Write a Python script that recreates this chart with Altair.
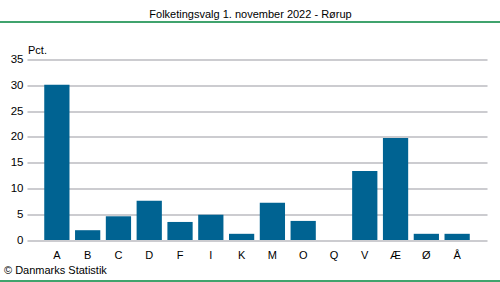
import altair as alt
import pandas as pd

parties = ["A", "B", "C", "D", "F", "I", "K", "M", "O", "Q", "V", "Æ", "Ø", "Å"]
values = [30.1, 1.9, 4.6, 7.6, 3.5, 4.9, 1.2, 7.2, 3.7, 0.0, 13.4, 19.8, 1.2, 1.2]
title_text = "Folketingsvalg 1. november 2022 - Rørup"
unit_text = "Pct."
source_text = "© Danmarks Statistik"

df = pd.DataFrame({"parti": parties, "pct": values})

FONT = "Liberation Sans"
FS = 11
W, H = 460, 180.5
LEFT, TOP = 27, 59.5

bars = alt.Chart(df).mark_bar(color="#006392").encode(
    x=alt.X("parti:N", sort=parties, title=None,
            scale=alt.Scale(paddingInner=0.18, paddingOuter=0.56),
            axis=alt.Axis(labelAngle=0, ticks=False, domain=False, labelPadding=9,
                          labelFont=FONT, labelFontSize=FS, labelColor="#000")),
    y=alt.Y("pct:Q", title=None,
            scale=alt.Scale(domain=[0, 35], nice=False),
            axis=alt.Axis(values=[0, 5, 10, 15, 20, 25, 30, 35], ticks=False, domain=False,
                          labelPadding=4, gridColor="#bbbbc0", gridWidth=1.3, gridOpacity=1,
                          labelFont=FONT, labelFontSize=FS + 0.5, labelColor="#000")),
)

title = alt.Chart(pd.DataFrame({"t": [title_text]})).mark_text(
    font=FONT, fontSize=FS, align="center", baseline="middle", color="#000"
).encode(x=alt.value(250.5 - LEFT), y=alt.value(15 - TOP), text="t:N")

unit = alt.Chart(pd.DataFrame({"t": [unit_text]})).mark_text(
    font=FONT, fontSize=FS, align="left", baseline="middle", color="#000"
).encode(x=alt.value(28 - LEFT), y=alt.value(51 - TOP), text="t:N")

source = alt.Chart(pd.DataFrame({"t": [source_text]})).mark_text(
    font=FONT, fontSize=FS, align="left", baseline="middle", color="#000"
).encode(x=alt.value(4 - LEFT), y=alt.value(271 - TOP), text="t:N")

line_top = alt.Chart(pd.DataFrame({"a": [0]})).mark_rule(color="#00843d", strokeWidth=1.3).encode(
    x=alt.value(0 - LEFT), x2=alt.value(500 - LEFT), y=alt.value(22 - TOP))
line_bot = alt.Chart(pd.DataFrame({"a": [0]})).mark_rule(color="#00843d", strokeWidth=1.3).encode(
    x=alt.value(0 - LEFT), x2=alt.value(500 - LEFT), y=alt.value(281 - TOP))

chart = alt.layer(bars, title, unit, source, line_top, line_bot).properties(
    width=W, height=H,
    autosize=alt.AutoSizeParams(type="none"),
    padding={"left": LEFT, "top": TOP, "right": 500 - LEFT - W, "bottom": 282 - TOP - H},
    background="white",
).configure_view(stroke=None)

chart.save("out.html", embed_options={"renderer": "svg", "actions": False})
